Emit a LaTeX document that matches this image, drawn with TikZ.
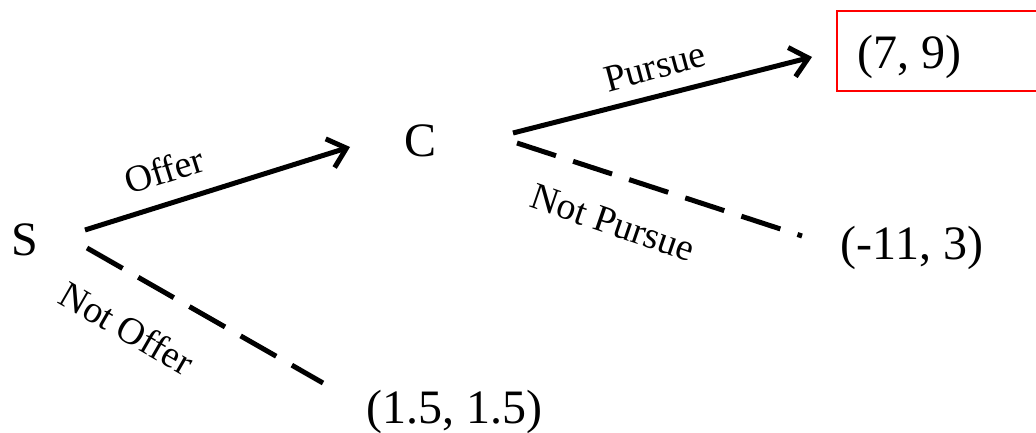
\documentclass[tikz,border=0pt]{standalone}
\usepackage{fontspec}
\setmainfont{Liberation Serif}
\usetikzlibrary{arrows.meta}
\begin{document}
\begin{tikzpicture}[x=1pt,y=-1pt,
  player/.style={font=\fontsize{48}{52}\selectfont, inner sep=0pt},
  payoff/.style={font=\fontsize{48}{52}\selectfont, inner sep=0pt},
  movelabel/.style={font=\fontsize{38}{42}\selectfont, inner sep=0pt},
  chosen/.style={line width=5pt, line cap=butt,
    -{Straight Barb[length=17pt,width=30pt,line width=5pt]}},
  rejected/.style={line width=5pt, dash pattern=on 41pt off 18pt},
  highlight/.style={draw=red, line width=1.5pt}]
\useasboundingbox (0,0) rectangle (1036,433);

% decision nodes and payoffs
\node[player] (S) at (25,240) {S};
\node[player] (C) at (421,141) {C};
\node[payoff] (p79)  at (909,57)  {(7, 9)};
\node[payoff] (p113) at (912,248) {(-11, 3)};
\node[payoff] (p15)  at (454,412) {(1.5, 1.5)};

% red frame round the equilibrium payoff (runs off the right edge)
\draw[highlight] (1036,11) -- (837,11) -- (837,91) -- (1036,91);

% branch end points
\coordinate (S-up)   at (85,230);
\coordinate (S-down) at (87,248);
\coordinate (C-in)   at (350,147);
\coordinate (C-up)   at (513,133);
\coordinate (C-down) at (517,143);
\coordinate (p79-in)  at (812,57);
\coordinate (p113-in) at (802,236);
\coordinate (p15-in)  at (323,383);

% branches
\draw[chosen]   (S-up) -- (C-in);
\draw[rejected] (S-down) -- (p15-in);
\draw[chosen]   (C-up) -- (p79-in);
\draw[rejected] (C-down) -- (p113-in);

% move labels
\node[movelabel, rotate=17.4] (l-offer)    at (164,170) {Offer};
\node[movelabel, rotate=-30]  (l-notoffer) at (127,328) {Not Offer};
\node[movelabel, rotate=15]   (l-pursue)   at (655,67)  {Pursue};
\node[movelabel, rotate=-19]  (l-notpursue) at (613,223) {Not Pursue};
\end{tikzpicture}
\end{document}
